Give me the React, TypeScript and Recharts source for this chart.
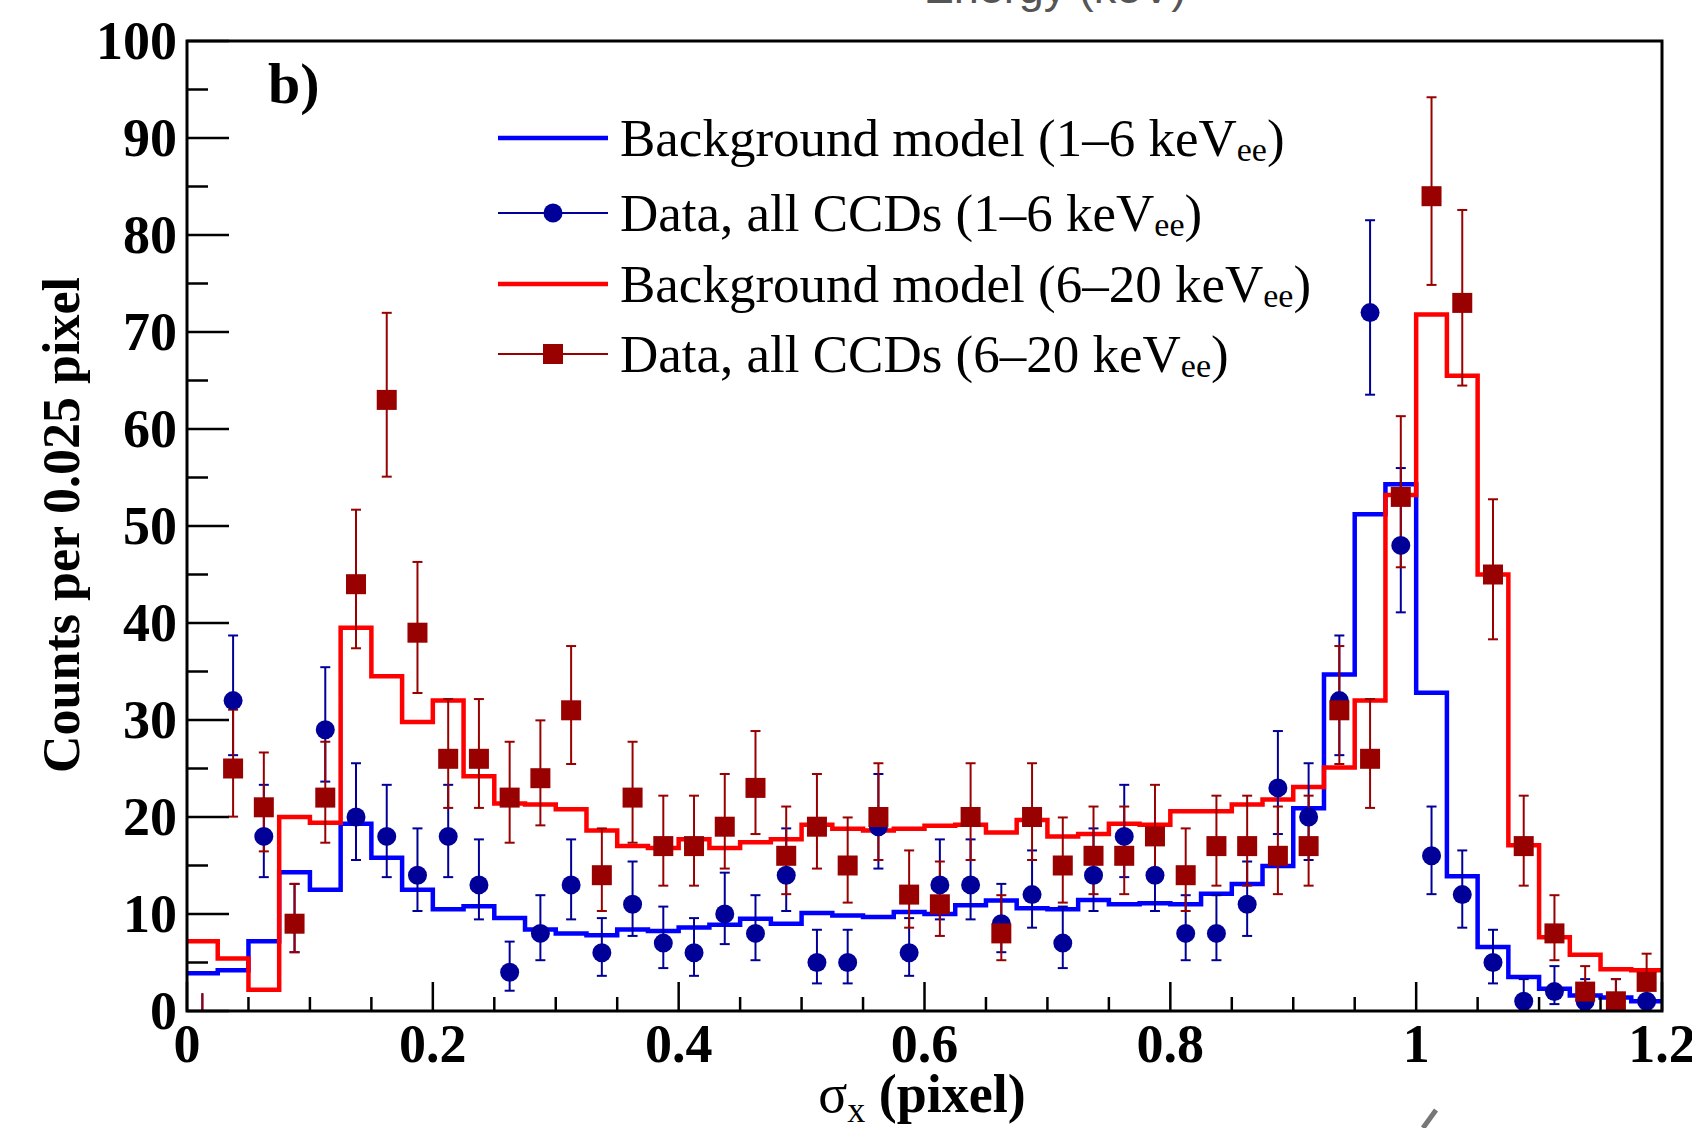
import React from "react";
import { ComposedChart, Line, Scatter, XAxis, YAxis, ErrorBar } from "recharts";

// histogram binning: counts per 0.025 pixel, 48 bins over 0..1.2
const BIN_WIDTH = 0.025;

// background model histograms (bin contents)
const BLUE_MODEL = [
  3.9, 4.2, 7.2, 14.3, 12.5, 19.3, 15.8, 12.5, 10.5, 10.8,
  9.6, 8.4, 8.0, 7.8, 8.4, 8.25, 8.6, 8.9, 9.5, 9.0,
  10.1, 9.85, 9.7, 10.2, 10.0, 10.9, 11.4, 10.6, 10.5, 11.45,
  11.0, 11.1, 11.0, 12.1, 13.1, 14.95, 20.9, 34.7, 51.2, 54.3,
  32.8, 13.9, 6.6, 3.5, 2.3, 1.6, 1.4, 1.0,
];
const RED_MODEL = [
  7.2, 5.4, 2.2, 20.0, 19.4, 39.5, 34.5, 29.8, 32.0, 24.2,
  21.4, 21.3, 20.8, 18.6, 17.0, 16.8, 17.7, 16.8, 17.4, 17.7,
  19.2, 18.8, 18.6, 18.8, 19.1, 19.2, 18.4, 19.7, 18.0, 18.25,
  19.3, 19.2, 20.6, 20.6, 21.3, 21.8, 23.1, 25.1, 32.0, 53.2,
  71.8, 65.5, 45.0, 17.1, 7.6, 5.8, 4.3, 4.2,
];

// measured counts, all CCDs
const BLUE_DATA = [
  0, 32, 18, 9, 29, 20, 18, 14, 18, 13,
  4, 8, 13, 6, 11, 7, 6, 10, 8, 14,
  5, 5, 19, 6, 13, 13, 9, 12, 7, 14,
  18, 14, 8, 8, 11, 23, 20, 32, 72, 48,
  16, 12, 5, 1, 2, 1, 1, 1,
];
const RED_DATA = [
  0, 25, 21, 9, 22, 44, 63, 39, 26, 26,
  22, 24, 31, 14, 22, 17, 17, 19, 23, 16,
  19, 15, 20, 12, 11, 20, 8, 20, 15, 16,
  16, 18, 14, 17, 17, 16, 17, 31, 26, 53,
  84, 73, 45, 17, 8, 2, 1, 3,
];

const X_TICKS = [
  0, 0.05, 0.1, 0.15, 0.2, 0.25, 0.3, 0.35, 0.4, 0.45, 0.5, 0.55, 0.6,
  0.65, 0.7, 0.75, 0.8, 0.85, 0.9, 0.95, 1, 1.05, 1.1, 1.15, 1.2,
];
const X_MAJOR = [0, 0.2, 0.4, 0.6, 0.8, 1, 1.2];
const Y_TICKS = [0, 5, 10, 15, 20, 25, 30, 35, 40, 45, 50, 55, 60, 65, 70, 75, 80, 85, 90, 95, 100];

const LEGEND = [
  { kind: "model", color: "#0000ff", text: "Background model (1–6 keV" },
  { kind: "circle", color: "#000099", text: "Data, all CCDs (1–6 keV" },
  { kind: "model", color: "#ff0000", text: "Background model (6–20 keV" },
  { kind: "square", color: "#990000", text: "Data, all CCDs (6–20 keV" },
];

const W = 1692;
const H = 1128;
const PLOT_LEFT = 187;
const PLOT_TOP = 41;
const PLOT_RIGHT = 1662;
const PLOT_BOTTOM = 1011;
const SERIF = '"Liberation Serif", "Times New Roman", serif';
const SANS = '"Liberation Sans", Arial, sans-serif';

// Poisson 68% interval of a count (as the original error bars)
const poissonErr = (n: number): [number, number] => {
  const lo = n === 0 ? 0 : n * Math.pow(1 - 1 / (9 * n) - 1 / (3 * Math.sqrt(n)), 3);
  const m = n + 1;
  const hi = m * Math.pow(1 - 1 / (9 * m) + 1 / (3 * Math.sqrt(m)), 3);
  return [n - lo, hi - n];
};

const histPoints = (vals: number[]) => [
  ...vals.map((v, i) => ({ x: i * BIN_WIDTH, y: v })),
  { x: vals.length * BIN_WIDTH, y: vals[vals.length - 1] },
];
const dataPoints = (counts: number[]) =>
  counts.map((n, i) => ({ x: (i + 0.5) * BIN_WIDTH, y: n, err: poissonErr(n) }));

const blueHist = histPoints(BLUE_MODEL);
const redHist = histPoints(RED_MODEL);
const bluePts = dataPoints(BLUE_DATA);
const redPts = dataPoints(RED_DATA);

const YTick = (props: any) => {
  const { y, payload } = props;
  const v = payload.value;
  const major = v % 10 === 0;
  return (
    <g>
      <line x1={PLOT_LEFT} x2={PLOT_LEFT + (major ? 42 : 21)} y1={y} y2={y} stroke="#000" strokeWidth={2.5} />
      {major && (
        <text x={PLOT_LEFT - 10} y={y + 18} textAnchor="end" fontFamily={SERIF} fontWeight="bold" fontSize={54} fill="#000">
          {v}
        </text>
      )}
    </g>
  );
};

const XTick = (props: any) => {
  const { x, payload } = props;
  const v = payload.value;
  const major = X_MAJOR.some((m) => Math.abs(m - v) < 1e-6);
  return (
    <g>
      <line x1={x} x2={x} y1={PLOT_BOTTOM} y2={PLOT_BOTTOM - (major ? 29 : 14)} stroke="#000" strokeWidth={2.5} />
      {major && (
        <text x={x} y={PLOT_BOTTOM + 51} textAnchor="middle" fontFamily={SERIF} fontWeight="bold" fontSize={54} fill="#000">
          {String(v)}
        </text>
      )}
    </g>
  );
};

const circle = (p: any) => <circle cx={p.cx} cy={p.cy} r={9.5} fill="#000099" />;
const square = (p: any) => <rect x={p.cx - 10} y={p.cy - 10} width={20} height={20} fill="#990000" />;
const nothing = () => <g />;

export default function App() {
  return (
    <div style={{ position: "absolute", left: 0, top: 0, width: W, height: H, background: "#fff" }}>
      <ComposedChart width={W} height={H} margin={{ top: PLOT_TOP, right: W - PLOT_RIGHT, bottom: 0, left: 0 }}>
        <XAxis
          type="number"
          dataKey="x"
          domain={[0, 1.2]}
          ticks={X_TICKS}
          interval={0}
          height={H - PLOT_BOTTOM}
          tickLine={false}
          axisLine={false}
          tick={(p: any) => <XTick {...p} />}
          allowDataOverflow
        />
        <YAxis
          type="number"
          domain={[0, 100]}
          ticks={Y_TICKS}
          interval={0}
          width={PLOT_LEFT}
          tickLine={false}
          axisLine={false}
          tick={(p: any) => <YTick {...p} />}
          allowDataOverflow
        />
        <Line data={blueHist} dataKey="y" type="stepAfter" stroke="#0000ff" strokeWidth={4.5} dot={false} isAnimationActive={false} />
        <Line data={redHist} dataKey="y" type="stepAfter" stroke="#ff0000" strokeWidth={4.5} dot={false} isAnimationActive={false} />
        <Scatter data={bluePts.filter((p) => p.y === 0)} dataKey="y" shape={nothing} isAnimationActive={false}>
          <ErrorBar dataKey="err" direction="y" width={0} stroke="#000099" strokeWidth={2} />
        </Scatter>
        <Scatter data={bluePts.filter((p) => p.y > 0)} dataKey="y" shape={circle} isAnimationActive={false}>
          <ErrorBar dataKey="err" direction="y" width={5} stroke="#000099" strokeWidth={2} />
        </Scatter>
        <Scatter data={redPts.filter((p) => p.y === 0)} dataKey="y" shape={nothing} isAnimationActive={false}>
          <ErrorBar dataKey="err" direction="y" width={0} stroke="#990000" strokeWidth={2} />
        </Scatter>
        <Scatter data={redPts.filter((p) => p.y > 0)} dataKey="y" shape={square} isAnimationActive={false}>
          <ErrorBar dataKey="err" direction="y" width={5} stroke="#990000" strokeWidth={2} />
        </Scatter>
      </ComposedChart>

      <svg width={W} height={H} style={{ position: "absolute", left: 0, top: 0, pointerEvents: "none" }}>
        <text x={1055} y={3} textAnchor="middle" fontFamily={SANS} fontSize={45} fill="#555">
          Energy (keV)
        </text>
        <rect
          x={PLOT_LEFT}
          y={PLOT_TOP}
          width={PLOT_RIGHT - PLOT_LEFT}
          height={PLOT_BOTTOM - PLOT_TOP}
          fill="none"
          stroke="#000"
          strokeWidth={3}
        />
        <text x={268} y={103} fontFamily={SERIF} fontWeight="bold" fontSize={58} fill="#000">
          b)
        </text>
        {LEGEND.map((item, i) => {
          const y = [138, 213, 284, 354][i];
          return (
            <g key={i}>
              <line x1={498} x2={608} y1={y} y2={y} stroke={item.color} strokeWidth={item.kind === "model" ? 4.5 : 2} />
              {item.kind === "circle" && <circle cx={553} cy={y} r={9.5} fill={item.color} />}
              {item.kind === "square" && <rect x={543} y={y - 10} width={20} height={20} fill={item.color} />}
              <text x={620} y={y + 18} fontFamily={SERIF} fontSize={53} fill="#000">
                {item.text}
                <tspan fontSize={34} dy={5}>ee</tspan>
                <tspan dy={-5}>)</tspan>
              </text>
            </g>
          );
        })}
        <text
          x={79}
          y={525}
          transform="rotate(-90 79 525)"
          textAnchor="middle"
          fontFamily={SERIF}
          fontWeight="bold"
          fontSize={52}
          fill="#000"
        >
          Counts per 0.025 pixel
        </text>
        <text x={922} y={1112} textAnchor="middle" fontFamily={SERIF} fontWeight="bold" fontSize={54} fill="#000">
          <tspan fontWeight="normal">σ</tspan>
          <tspan fontWeight="normal" fontSize={36} dy={10}>x</tspan>
          <tspan dy={-10}> (pixel)</tspan>
        </text>
        <line x1={1436} y1={1110} x2={1423} y2={1128} stroke="#777" strokeWidth={5} />
      </svg>
    </div>
  );
}
